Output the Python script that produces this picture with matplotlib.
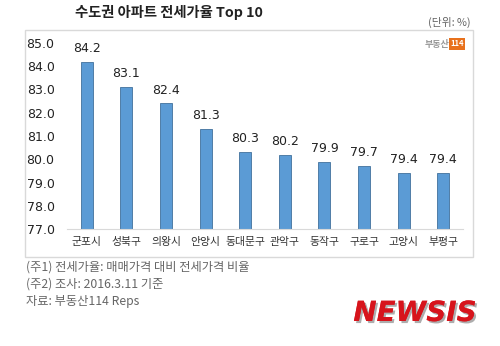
import matplotlib
matplotlib.use("Agg")
import matplotlib.pyplot as plt
from matplotlib.patches import Rectangle
import matplotlib.patheffects as pe

plt.rcParams['font.family'] = ['Noto Sans CJK KR', 'DejaVu Sans']

categories = ['군포시', '성북구', '의왕시', '안양시', '동대문구', '관악구', '동작구', '구로구', '고양시', '부평구']
values = [84.2, 83.1, 82.4, 81.3, 80.3, 80.2, 79.9, 79.7, 79.4, 79.4]
yticks = [77.0, 78.0, 79.0, 80.0, 81.0, 82.0, 83.0, 84.0, 85.0]
title = '수도권 아파트 전세가율 Top 10'
unit = '(단위: %)'
notes = ['(주1) 전세가율: 매매가격 대비 전세가격 비율',
         '(주2) 조사: 2016.3.11 기준',
         '자료: 부동산114 Reps']

W, H = 500, 346
fig = plt.figure(figsize=(W/100, H/100), dpi=100)
fig.patch.set_facecolor('white')

def fx(px): return px / W
def fy(py): return 1 - py / H

# frame box
fig.patches.append(Rectangle((fx(25), fy(257)), fx(473) - fx(25), fy(30) - fy(257),
                             transform=fig.transFigure, fill=False, edgecolor='#d9d9d9', lw=1.0))

ax = fig.add_axes([fx(67), fy(229), fx(463) - fx(67), fy(43) - fy(229)])
x = list(range(len(categories)))
ax.bar(x, values, width=0.3, bottom=0, color='#5b9bd5', edgecolor='#41719c', linewidth=0.6, zorder=2)
ax.set_ylim(77.0, 85.0)
ax.set_xlim(-0.5, len(categories) - 0.5)
ax.set_yticks(yticks)
ax.set_yticklabels([f'{v:.1f}' for v in yticks], fontsize=9, color='#222222', family=['DejaVu Sans'])
ax.set_xticks(x)
ax.set_xticklabels(categories, fontsize=7.8, color='#333333')
ax.tick_params(axis='both', length=0)
ax.tick_params(axis='y', pad=9)
ax.tick_params(axis='x', pad=6)
for s in ['top', 'right', 'left']:
    ax.spines[s].set_visible(False)
ax.spines['bottom'].set_color('#d9d9d9')
ax.set_facecolor('none')
for xi, v in zip(x, values):
    ax.annotate(f'{v:.1f}', (xi, v), xytext=(0, 5), textcoords='offset points',
                ha='center', va='bottom', fontsize=9, color='#222222', family=['DejaVu Sans'])

fig.text(fx(75), fy(13), title, fontsize=10.3, fontweight='bold', color='#222222', va='center', ha='left')
fig.text(fx(471), fy(22), unit, fontsize=7.8, color='#666666', va='center', ha='right')

# logo
fig.text(fx(449), fy(44), '부동산', fontsize=6.5, color='#999999', va='center', ha='right', fontweight='bold')
fig.text(fx(457), fy(44), '114', fontsize=5.5, color='white', va='center', ha='center', fontweight='bold',
         bbox=dict(boxstyle='square,pad=0.15', fc='#e8711c', ec='none'))

for i, n in enumerate(notes):
    fig.text(fx(26), fy(267 + i * 17.5), n, fontsize=8.8, color='#666666', va='center', ha='left')

fig.text(fx(415), fy(313), 'NEWSIS', fontsize=20, fontweight='heavy', style='italic',
         color='#d7141c', va='center', ha='center', family=['DejaVu Sans'],
         path_effects=[pe.withSimplePatchShadow(offset=(1.5, -1.5), shadow_rgbFace='#777777', alpha=0.6),
                       pe.Normal()])

fig.savefig('out.png', dpi=100)
